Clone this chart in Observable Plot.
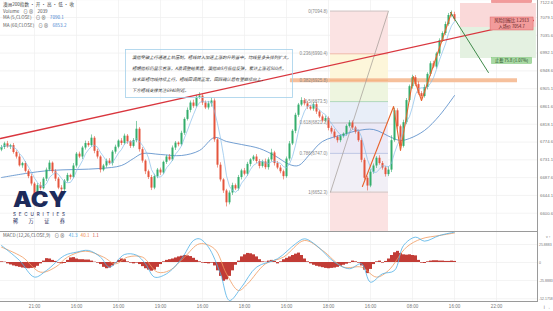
<!DOCTYPE html>
<html lang="zh">
<head>
<meta charset="utf-8">
<script src="https://cdn.jsdelivr.net/npm/d3@7"></script>
<script src="https://cdn.jsdelivr.net/npm/@observablehq/plot@0.6"></script>
<style>
html,body{margin:0;padding:0;background:#fff;}
#wrap{position:relative;width:553px;height:311px;overflow:hidden;background:#fff;}
#wrap svg{position:absolute;left:0;display:block;}
</style>
</head>
<body>
<div id="wrap"></div>
<script>
// ---------- DATA ----------
const firstOpen = 6755.0;
const closes = [
6761.3,6770.2,6762.5,6766.0,6749.1,6738.0,6716.5,6722.0,6703.0,6690.0,
6672.0,6645.0,6668.0,6660.5,6684.0,6706.0,6723.0,6702.0,6684.0,6662.0,
6658.0,6679.0,6693.0,6688.0,6716.0,6745.0,6738.0,6760.0,6771.0,6766.0,
6784.0,6752.0,6738.0,6706.0,6716.0,6728.0,6722.0,6750.0,6762.0,6777.0,
6771.0,6789.0,6775.0,6764.0,6778.0,6806.0,6756.0,6728.0,6702.0,6688.0,
6662.0,6690.0,6706.0,6699.0,6725.0,6738.0,6731.0,6760.0,6772.0,6768.0,
6796.0,6830.0,6852.0,6870.0,6862.0,6884.0,6887.0,6870.0,6858.0,6868.0,
6875.0,6780.0,6718.0,6682.0,6655.0,6626.0,6650.0,6668.0,6660.0,6688.0,
6704.0,6696.0,6720.0,6731.0,6738.0,6727.0,6715.0,6726.0,6712.0,6731.0,
6748.0,6722.0,6711.0,6702.0,6690.0,6733.0,6770.0,6801.0,6840.0,6865.0,
6876.0,6868.0,6860.0,6855.0,6866.0,6848.0,6836.0,6826.0,6832.0,6808.0,
6799.0,6786.0,6778.0,6788.0,6794.0,6813.0,6821.0,6809.0,6799.0,6778.0,
6730.0,6686.0,6667.0,6701.0,6716.0,6735.0,6722.0,6711.0,6695.0,6706.0,
6778.0,6851.0,6812.0,6764.0,6822.0,6876.0,6910.0,6932.0,6915.0,6893.0,
6886.0,6908.0,6940.0,6966.0,6958.0,6990.0,7022.0,7040.0,7062.0,7084.0,
7086.0,7074.0];
const wickUp = [
5,4,6,3,5,4,7,3,5,4, 6,4,5,8,4,5,6,3,5,4, 6,4,5,3,6,4,5,4,6,5, 8,4,5,3,4,5,6,4,5,3,
6,5,4,3,5,19,4,5,3,4, 5,6,4,5,3,4,6,5,4,3, 5,4,6,5,7,5,8,4,5,6, 7,5,4,6,3,4,5,6,4,5,
4,6,5,3,4,6,5,4,7,5, 9,4,5,6,4,5,6,4,5,4, 7,5,6,4,5,6,4,5,6,4, 5,6,4,5,3,4,6,5,4,5,
6,5,4,6,5,4,6,5,4,8, 12,6,5,4,6,5,4,6,5,7, 5,6,4,5,6,4,5,4,6,5, 9,6];
const wickDn = [
4,5,3,6,4,5,3,6,4,5, 5,6,4,5,3,6,4,5,6,4, 7,5,4,6,3,5,4,6,5,4, 4,6,5,7,4,5,4,6,5,4,
5,4,6,5,4,5,6,5,7,5, 6,4,5,6,4,5,3,4,6,5, 4,5,4,6,5,4,5,6,4,5, 8,6,7,5,6,10,5,6,4,5,
6,4,5,6,4,5,6,4,5,6, 5,6,4,5,8,4,5,4,6,5, 4,5,6,4,5,6,4,5,4,6, 5,4,6,5,4,5,4,6,5,4,
6,5,12,4,5,6,4,5,6,5, 6,4,8,6,4,5,4,6,5,4, 5,4,6,5,4,5,6,4,5,4, 4,5];

const ma60Idx = [0,8,16,25,33,40,44,47,53,60,66,71,75,80,86,91,96,99,103,107,114,119,124,130,133,136,141,146,151];
const ma60Val = [6687.9,6697.7,6705.1,6707.5,6710.0,6717.3,6734.4,6746.6,6744.2,6741.7,6754.0,6785.7,6776.0,6768.6,6758.8,6741.7,6719.7,6717.3,6746.6,6776.0,6793.1,6802.9,6805.3,6785.7,6778.4,6783.3,6802.9,6839.5,6888.4];

const histVals = [
1,0.5,-2,-3.5,-5,-6,-7,-8,-8.5,-9,
-8.5,-8,-5.5,-2,2,5.5,5,3,1.5,-1,
-2,-1.5,3,6.5,7,5,4,4,3.5,3.5,
2,0.5,-1,-3,-7,-9,-8,-5,-1,3,
5,4,1,-1,-2,-1,-3,-6,-9,-11,
-12.5,-11,-7,-3,1,3,4,5,6.5,8,
9,10,9.5,8.5,6,3,1,-1,-1.5,-2,
-1,-5,-12,-20,-27,-25,-20,-12,-4,2,
8,11,13,12.5,11,8,4,1,0.5,2,
3,1.5,-2,1,4,6,8,10,12,13.5,
10,5,1,-2,-4,-5.5,-6.5,-7.5,-8.5,-9,
-8.5,-8,-7,-5.5,-4,-2.5,-1,2,1,-1,
-5,-11,-16,-10,-3,1,2,-1,1.5,5,
10,14,16,13,11,10.5,11,10,9.5,3,
-1,-1.5,1,2,2.5,2.5,2,2,1.5,1.5,
2,1.5];
const difIdx = [0,6,11,15,21,25,29,33,36,41,45,48,51,55,60,64,66,69,73,76,80,85,92,98,101,105,111,116,120,123,127,131,134,138,141,146,151];
const difVal = [24.4,2.9,-21,-11.5,10,14.8,17.3,7.7,-6.7,11.5,10.5,-1.9,-21,-16.3,5.3,31.6,34,22,-16.3,-54.6,-35.5,-6.7,5.3,26.8,34,24.4,0.5,-9,-1.9,-28.3,-16.3,-11.5,24.4,36.4,30.7,38.8,43.6];
const deaIdx = [0,7,13,18,22,28,34,38,42,47,52,56,61,66,71,75,79,82,88,94,101,107,114,120,125,129,135,140,146,151];
const deaVal = [22,7.7,-13.9,-6.7,7.7,16.3,7.7,-1.9,7.7,7.7,-13.9,-11.5,7.7,26.8,19.6,-16.3,-40.3,-30.7,-1.9,7.7,31.6,17.3,-6.7,-6.7,-21,-11.5,22,34,38.8,42.4];

const xTickIdx = [11,25,39,53,67,81,95,109,123,137,151,165];
const xTickLabels = ["21:00","16:00","16:00","19:00","16:00","18:00","16:00","18:00","16:00","08:00","16:00","22:00"];
const yTickVals = [7122.6,7079.1,7035.6,6992.1,6948.6,6905.1,6861.6,6818.1,6774.6,6731.1,6687.6,6644.1,6600.6];
const macdTicks = [25.8883,0,-25.8883,-52.1758];

const fibRatios = ["0","0.236","0.382","0.5","0.618","0.786","1"];
const fibPrices = [7094.8,6990.4,6925.8,6873.5,6821.3,6747.0,6652.3];
const fibSpan = [109.67,129];
const supportLevel = 6925.8;
const supportSpan = [96.3,172];
const posSpan = [153,178.3];
const posStop = 7113.4, posEntry = 7054.7, posTarget = 6978.9;
const trendIdx = [-0.33,177.3];
const trendVal = [6783.3,7071.8];
const projIdx = [149.67,162.3];
const projVal = [7091.4,6944.7];
const waveIdx = [120.3,130.7,133,137.3,140,150];
const waveVal = [6665.9,6861.5,6754.0,6934.9,6876.2,7091.4];

const analysisLines = [
 "澳指突破上行通道上轨压制，短线转入加速上涨的升势当中，均线呈多头排列扩大，",
 "短期指标仍显示看涨，A浪调整结束后，澳指由5月低位反弹，累计上涨近500点，",
 "技术面短均线持续上行，短线回调属正常，回踩确认后有望继续向上，",
 "下方短线支撑关注6940附近。"
];

// ---------- STYLE ----------
const UP = "#33ad6b", DOWN = "#e4553d";
const FONT = "'Noto Sans CJK SC','Noto Sans',sans-serif";
const xDomain = [-1/3, 178.667];
const yDomain = [6555.9, 7120.7];
const fibFills = ["#fbe3e3","#fdf6da","#eef5df","#e8eef8","#ece9f6","#f1eff6"];
const belowFill = "#fbe2e2";
const fibLineCols = ["#b0b0b0","#e88b8b","#f0a868","#8cc98e","#9a9a9a","#98a8d8","#b0b0b0"];

// ---------- BUILD ----------
const candles = closes.map((c, i) => {
  const o = i === 0 ? firstOpen : closes[i - 1];
  return {i, o, c, h: Math.max(o, c) + wickUp[i], l: Math.min(o, c) - wickDn[i], col: c >= o ? UP : DOWN};
});
const ma60 = ma60Idx.map((i, k) => ({i, v: ma60Val[k]}));
const hist = histVals.map((v, i) => ({i, v}));
const dif = difIdx.map((i, k) => ({i, v: difVal[k]}));
const dea = deaIdx.map((i, k) => ({i, v: deaVal[k]}));
const fibLevels = fibPrices.map((p, k) => ({r: fibRatios[k], p, col: fibLineCols[k]}));
const fibBands = fibPrices.slice(0, -1).map((p, k) => ({y1: p, y2: fibPrices[k + 1], fill: fibFills[k]}));
fibBands.push({y1: fibPrices[fibPrices.length - 1], y2: yDomain[0], fill: belowFill});
const posRects = [{y1: posStop, y2: posEntry, fill: "#fad9d9"}, {y1: posEntry, y2: posTarget, fill: "#e4f1e1"}];
const trend = trendIdx.map((i, k) => ({i, v: trendVal[k]}));
const proj = projIdx.map((i, k) => ({i, v: projVal[k]}));
const wave = waveIdx.map((i, k) => ({i, v: waveVal[k]}));
const labelMap = new Map(xTickIdx.map((d, k) => [d, xTickLabels[k]]));

const mainPlot = Plot.plot({
  width: 553, height: 232, marginTop: 0, marginBottom: 1, marginLeft: 0, marginRight: 16,
  x: {domain: xDomain, axis: null},
  y: {domain: yDomain, axis: null},
  color: {type: "identity"},
  style: {fontFamily: "Liberation Sans, Arial, sans-serif", fontSize: "4.3px", color: "#777", background: "#fff"},
  marks: [
    Plot.ruleY(yTickVals, {stroke: "#eeeeee", strokeWidth: 0.7}),
    Plot.ruleX(xTickIdx, {stroke: "#eeeeee", strokeWidth: 0.7}),
    Plot.rect(fibBands, {x1: fibSpan[0], x2: fibSpan[1], y1: "y1", y2: "y2", fill: "fill"}),
    Plot.rect(posRects, {x1: posSpan[0], x2: posSpan[1], y1: "y1", y2: "y2", fill: "fill"}),
    Plot.ruleY([supportLevel], {x1: supportSpan[0], x2: supportSpan[1], stroke: "#f6c09c", strokeWidth: 4}),
    Plot.ruleY(fibLevels, {y: "p", x1: fibSpan[0], x2: fibSpan[1], stroke: "col", strokeWidth: 0.6}),
    Plot.line([{i: fibSpan[0], v: fibPrices[6]}, {i: fibSpan[1], v: fibPrices[0]}], {x: "i", y: "v", stroke: "#a09a94", strokeWidth: 0.7}),
    Plot.line(ma60, {x: "i", y: "v", stroke: "#4f86c6", strokeWidth: 0.8, curve: "catmull-rom"}),
    Plot.ruleX(candles, {x: "i", y1: "l", y2: "h", stroke: "col", strokeWidth: 0.6}),
    Plot.ruleX(candles, {x: "i", y1: "o", y2: "c", stroke: "col", strokeWidth: 2}),
    Plot.lineY(candles, Plot.windowY({k: 5, anchor: "end"}, {x: "i", y: "c", stroke: "#86bde9", strokeWidth: 0.7})),
    Plot.line(trend, {x: "i", y: "v", stroke: "#d9363e", strokeWidth: 1.3}),
    Plot.line(wave, {x: "i", y: "v", stroke: "#e8642e", strokeWidth: 1.1}),
    Plot.line(proj, {x: "i", y: "v", stroke: "#3f8a4a", strokeWidth: 1}),
    Plot.text(fibLevels, {x: fibSpan[0], y: "p", text: d => `${d.r}(${d.p.toFixed(1)})`, textAnchor: "end", dx: -3, fontSize: 4.5, fill: "#8a8a8a"}),
    Plot.axisY(yTickVals.slice(1), {anchor: "right", tickSize: 0, tickPadding: 2.5, tickFormat: d => d.toFixed(1), fontSize: 4.3, fill: "#777"}),
    Plot.axisY(yTickVals.slice(0, 1), {anchor: "right", tickSize: 0, tickPadding: 2.5, dy: 2.5, tickFormat: d => d.toFixed(1), fontSize: 4.3, fill: "#777"}),
    Plot.frame({anchor: "right", stroke: "#9a9a9a"}),
    Plot.frame({anchor: "bottom", stroke: "#9a9a9a"})
  ]
});

const macdPlot = Plot.plot({
  width: 553, height: 79, marginTop: 0, marginBottom: 10, marginLeft: 0, marginRight: 16,
  x: {domain: xDomain, axis: null},
  y: {domain: [-56.1, 43.1], axis: null},
  style: {fontFamily: "Liberation Sans, Arial, sans-serif", fontSize: "4.3px", color: "#777", background: "#fff"},
  marks: [
    Plot.ruleY(macdTicks, {stroke: "#eeeeee", strokeWidth: 0.7}),
    Plot.ruleX(xTickIdx, {stroke: "#eeeeee", strokeWidth: 0.7}),
    Plot.ruleX(hist, {x: "i", y1: 0, y2: "v", stroke: "#c23c36", strokeWidth: 3}),
    Plot.line(dea, {x: "i", y: "v", stroke: "#f09a60", strokeWidth: 0.8, curve: "catmull-rom"}),
    Plot.line(dif, {x: "i", y: "v", stroke: "#4fb0e6", strokeWidth: 0.8, curve: "catmull-rom"}),
    Plot.axisY(macdTicks, {anchor: "right", tickSize: 0, tickPadding: 1.5, tickFormat: d => d === 0 ? "0" : d.toFixed(4), fontSize: 3.5, fill: "#777"}),
    Plot.axisX(xTickIdx, {anchor: "bottom", tickSize: 0, tickPadding: 3, tickFormat: d => labelMap.get(d), fontSize: 4.5, fill: "#777"}),
    Plot.frame({anchor: "right", stroke: "#9a9a9a"}),
    Plot.frame({anchor: "bottom", stroke: "#9a9a9a"})
  ]
});

const wrap = document.getElementById("wrap");
mainPlot.style.top = "0px";
macdPlot.style.top = "232px";
wrap.append(mainPlot, macdPlot);

// ---------- OVERLAY TEXT ----------
const sx = mainPlot.scale("x"), sy = mainPlot.scale("y");
const ov = d3.select(wrap).append("svg").attr("width", 553).attr("height", 311)
  .style("top", "0px").style("pointer-events", "none");
function txt(x, y, s, o = {}) {
  return ov.append("text").attr("x", x).attr("y", y).attr("font-family", o.family || FONT)
    .attr("font-size", o.size || 5).attr("fill", o.fill || "#555")
    .attr("font-weight", o.weight || 400).text(s);
}
// legend
txt(3, 6, "澳洲200指数 · 开 · 高 · 低 · 收", {fill: "#444", size: 4.6});
const l2 = txt(3, 12.6, "Volume", {size: 4.6});
l2.append("tspan").attr("dx", 4).text("⊙  ⊗");
l2.append("tspan").attr("dx", 4).text("2039");
const l3 = txt(3, 19.2, "MA (5,CLOSE)", {size: 4.6});
l3.append("tspan").attr("dx", 4).text("⊙  ⊗");
l3.append("tspan").attr("dx", 4).attr("fill", "#3f7fd0").text("7090.1");
const l4 = txt(3, 26.6, "MA (60,CLOSE)", {size: 4.6});
l4.append("tspan").attr("dx", 4).text("⊙  ⊗");
l4.append("tspan").attr("dx", 4).attr("fill", "#3f7fd0").text("6853.2");

// analysis box
ov.append("rect").attr("x", 125.5).attr("y", 49.5).attr("width", 167).attr("height", 48)
  .attr("fill", "none").attr("stroke", "#a3d0ea").attr("stroke-width", 0.8);
analysisLines.forEach((s, k) => txt(132, 58.8 + k * 11, s, {size: 4.3, fill: "#333"}).attr("font-style", "italic"));

// logo
txt(13, 207, "ACY", {size: 21, weight: 900, fill: "#1d2a5a", family: "Inter, Lato, sans-serif"})
  .attr("textLength", 54).attr("lengthAdjust", "spacingAndGlyphs");
txt(13, 216.2, "SECURITIES", {size: 4.6, fill: "#1d2a5a", family: "Inter, Lato, sans-serif"})
  .attr("textLength", 52).attr("lengthAdjust", "spacing");
txt(13, 223, "稀万证券", {size: 5.2, fill: "#1d2a5a"})
  .attr("textLength", 52).attr("lengthAdjust", "spacing");

// macd legend
const ml = txt(3, 237.2, "MACD (12,26,CLOSE,9)", {size: 4.6});
ml.append("tspan").attr("dx", 4).text("⊙  ⊗");
ml.append("tspan").attr("dx", 4).attr("fill", "#3fa6e0").text("41.3");
ml.append("tspan").attr("dx", 3).attr("fill", "#f08a4b").text("40.1");
ml.append("tspan").attr("dx", 3).attr("fill", "#d0453d").text("1.1");

// position tool labels
const cx = sx.apply(170.2);
const yEntry = sy.apply(posEntry), yStop = sy.apply(posStop), yTarget = sy.apply(posTarget);
ov.append("rect").attr("x", cx - 20).attr("y", yStop - 6).attr("width", 40).attr("height", 5.5)
  .attr("fill", "#f29b9b").attr("stroke", "#e57373").attr("stroke-width", 0.5);
ov.append("rect").attr("x", cx - 21.5).attr("y", yEntry - 10).attr("width", 43).attr("height", 13)
  .attr("fill", "#f29b9b").attr("stroke", "#e06666").attr("stroke-width", 0.5);
txt(cx, yEntry - 5, "风险回报比 1.2913", {size: 4.2, fill: "#5a1a1a"}).attr("text-anchor", "middle");
txt(cx, yEntry + 1.2, "入场价 7054.7", {size: 4.2, fill: "#5a1a1a"}).attr("text-anchor", "middle");
ov.append("rect").attr("x", cx - 20).attr("y", yTarget - 0.5).attr("width", 40).attr("height", 6)
  .attr("fill", "#a9d9a4").attr("stroke", "#7cc576").attr("stroke-width", 0.5);
txt(cx, yTarget + 4, "止盈 75.8 (1.07%)", {size: 4.2, fill: "#1f4d1f"}).attr("text-anchor", "middle");
</script>
</body>
</html>
